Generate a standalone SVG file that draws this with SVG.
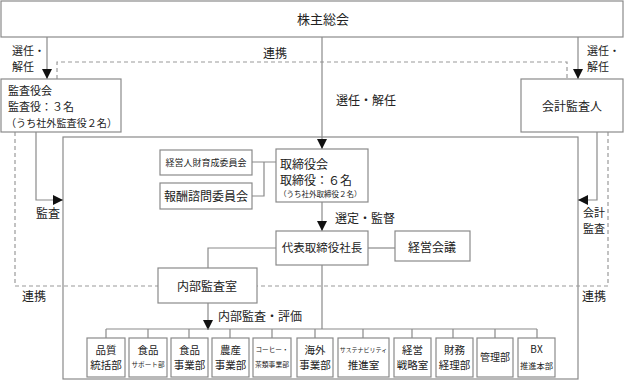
<svg xmlns="http://www.w3.org/2000/svg" width="624" height="381" viewBox="0 0 624 381">
<defs>
<marker id="arr" markerUnits="userSpaceOnUse" markerWidth="10" markerHeight="10" viewBox="0 0 10 10" refX="10" refY="5" orient="auto">
<path d="M0,0 L10,5 L0,10 Z" fill="#111"/>
</marker>
</defs>
<style>
.box{fill:#fff;stroke:#8a8a8a;stroke-width:1.2}
.ln{fill:none;stroke:#8a8a8a;stroke-width:1.2}
.ds{fill:none;stroke:#9a9a9a;stroke-width:1.2;stroke-dasharray:4 3}
text{font-family:"Noto Sans CJK JP","Noto Sans",sans-serif;fill:#222;font-size:12px}
.c{text-anchor:middle}
.s{font-size:11px}
</style>
<rect x="0" y="0" width="624" height="381" fill="#fff"/>
<g id="board-frame"><rect class="box" x="63" y="137" width="515" height="242" fill="none"/></g>
<g id="connectors">
<path class="ds" d="M57,79 V62 H567 V79"/>
<path class="ds" d="M15,132 V286 H158"/>
<path class="ds" d="M608,132 V286 H257"/>
<path class="ln" d="M47,37 V79" marker-end="url(#arr)"/>
<path class="ln" d="M578,37 V79" marker-end="url(#arr)"/>
<path class="ln" d="M322,37 V149" marker-end="url(#arr)"/>
<path class="ln" d="M36,132 V200 H63" marker-end="url(#arr)"/>
<path class="ln" d="M597,132 V200 H578" marker-end="url(#arr)"/>
<path class="ln" d="M252,162 H276 M264,162 V196 H252"/>
<path class="ln" d="M322,202 V231" marker-end="url(#arr)"/>
<path class="ln" d="M368,248 H395"/>
<path class="ln" d="M276,248 H208 V268"/>
<path class="ln" d="M208,303 V330" marker-end="url(#arr)"/>
<path class="ln" d="M322,265 V329 M106,329 H537"/>
<path class="ln" d="M106,329 V338 M148,329 V338 M189,329 V338 M230,329 V338 M272,329 V338 M315,329 V338 M363,329 V338 M412,329 V338 M453,329 V338 M495,329 V338 M537,329 V338"/>
<text class="s" x="12" y="55">選任・</text>
<text class="s" x="12" y="71">解任</text>
<text class="s" x="587" y="55">選任・</text>
<text class="s" x="587" y="71">解任</text>
<text x="263" y="57.5">連携</text>
<text x="336" y="104.5">選任・解任</text>
<text x="36" y="217.5">監査</text>
<text class="s" x="583" y="217">会計</text>
<text class="s" x="583" y="233">監査</text>
<text x="22" y="301">連携</text>
<text x="582" y="301">連携</text>
<text x="335" y="222.5">選定・監督</text>
<text x="218" y="320.5">内部監査・評価</text>
</g>
<g id="shareholders"><rect class="box" x="1" y="1" width="622" height="36"/><text class="c" x="323" y="24" style="font-size:13px">株主総会</text></g>
<g id="audit-board"><rect class="box" x="1" y="79" width="120" height="53"/>
<text class="s" x="8" y="94.5">監査役会</text>
<text class="s" x="8" y="110.5">監査役：３名</text>
<text x="6" y="126.5" style="font-size:10.5px" textLength="111" lengthAdjust="spacingAndGlyphs">（うち社外監査役２名）</text></g>
<g id="accounting-auditor"><rect class="box" x="521" y="79" width="102" height="53"/><text class="c" x="572" y="110.5">会計監査人</text></g>
<g id="nomination-committee"><rect class="box" x="160" y="150" width="92" height="25"/><text class="c" x="206" y="165.5" style="font-size:9px">経営人財育成委員会</text></g>
<g id="compensation-committee"><rect class="box" x="160" y="183" width="92" height="26"/><text class="c" x="206" y="200.5">報酬諮問委員会</text></g>
<g id="board"><rect class="box" x="276" y="149" width="92" height="53"/>
<text x="280" y="168.5">取締役会</text>
<text x="280" y="184.5">取締役：６名</text>
<text x="279" y="197" style="font-size:7.5px">（うち社外取締役２名）</text></g>
<g id="president"><rect class="box" x="276" y="231" width="92" height="34"/><text class="c" x="322" y="252" style="font-size:11.5px">代表取締役社長</text></g>
<g id="management-meeting"><rect class="box" x="395" y="231" width="75" height="30"/><text class="c" x="432" y="251.5">経営会議</text></g>
<g id="internal-audit"><rect class="box" x="158" y="268" width="99" height="35"/><text class="c" x="207" y="290.5">内部監査室</text></g>
<g id="dept-quality"><rect class="box" x="87" y="338" width="38" height="39"/><text class="c" x="106" y="353.5" style="font-size:10.5px">品質</text><text class="c" x="106" y="369" style="font-size:10.5px">統括部</text></g>
<g id="dept-food-support"><rect class="box" x="129" y="338" width="38" height="39"/><text class="c" x="148" y="353.5" style="font-size:10.5px">食品</text><text class="c" x="148" y="367" style="font-size:6.6px">サポート部</text></g>
<g id="dept-food"><rect class="box" x="171" y="338" width="37" height="39"/><text class="c" x="189.5" y="353.5" style="font-size:10.5px">食品</text><text class="c" x="189.5" y="369" style="font-size:10.5px">事業部</text></g>
<g id="dept-agri"><rect class="box" x="212" y="338" width="37" height="39"/><text class="c" x="230.5" y="353.5" style="font-size:10.5px">農産</text><text class="c" x="230.5" y="369" style="font-size:10.5px">事業部</text></g>
<g id="dept-coffee"><rect class="box" x="253" y="338" width="38" height="39"/><text class="c" x="272" y="352" style="font-size:6.6px">コーヒー・</text><text class="c" x="272" y="367" style="font-size:6.8px">茶類事業部</text></g>
<g id="dept-overseas"><rect class="box" x="297" y="338" width="36" height="39"/><text class="c" x="315" y="353.5" style="font-size:10.5px">海外</text><text class="c" x="315" y="369" style="font-size:10.5px">事業部</text></g>
<g id="dept-sustainability"><rect class="box" x="338" y="338" width="51" height="39"/><text class="c" x="363.5" y="352" style="font-size:6px">サステナビリティ</text><text class="c" x="363.5" y="369" style="font-size:10.5px">推進室</text></g>
<g id="dept-strategy"><rect class="box" x="394" y="338" width="37" height="39"/><text class="c" x="412.5" y="353.5" style="font-size:10.5px">経営</text><text class="c" x="412.5" y="369" style="font-size:10.5px">戦略室</text></g>
<g id="dept-finance"><rect class="box" x="436" y="338" width="37" height="39"/><text class="c" x="454.5" y="353.5" style="font-size:10.5px">財務</text><text class="c" x="454.5" y="369" style="font-size:10.5px">経理部</text></g>
<g id="dept-admin"><rect class="box" x="477" y="338" width="36" height="39"/><text class="c" x="495" y="361" style="font-size:10px">管理部</text></g>
<g id="dept-bx"><rect class="box" x="518" y="338" width="37" height="39"/><text class="c" x="536.5" y="353" style="font-size:10px">BX</text><text class="c" x="536.5" y="368.5" style="font-size:8.3px">推進本部</text></g>
</svg>
